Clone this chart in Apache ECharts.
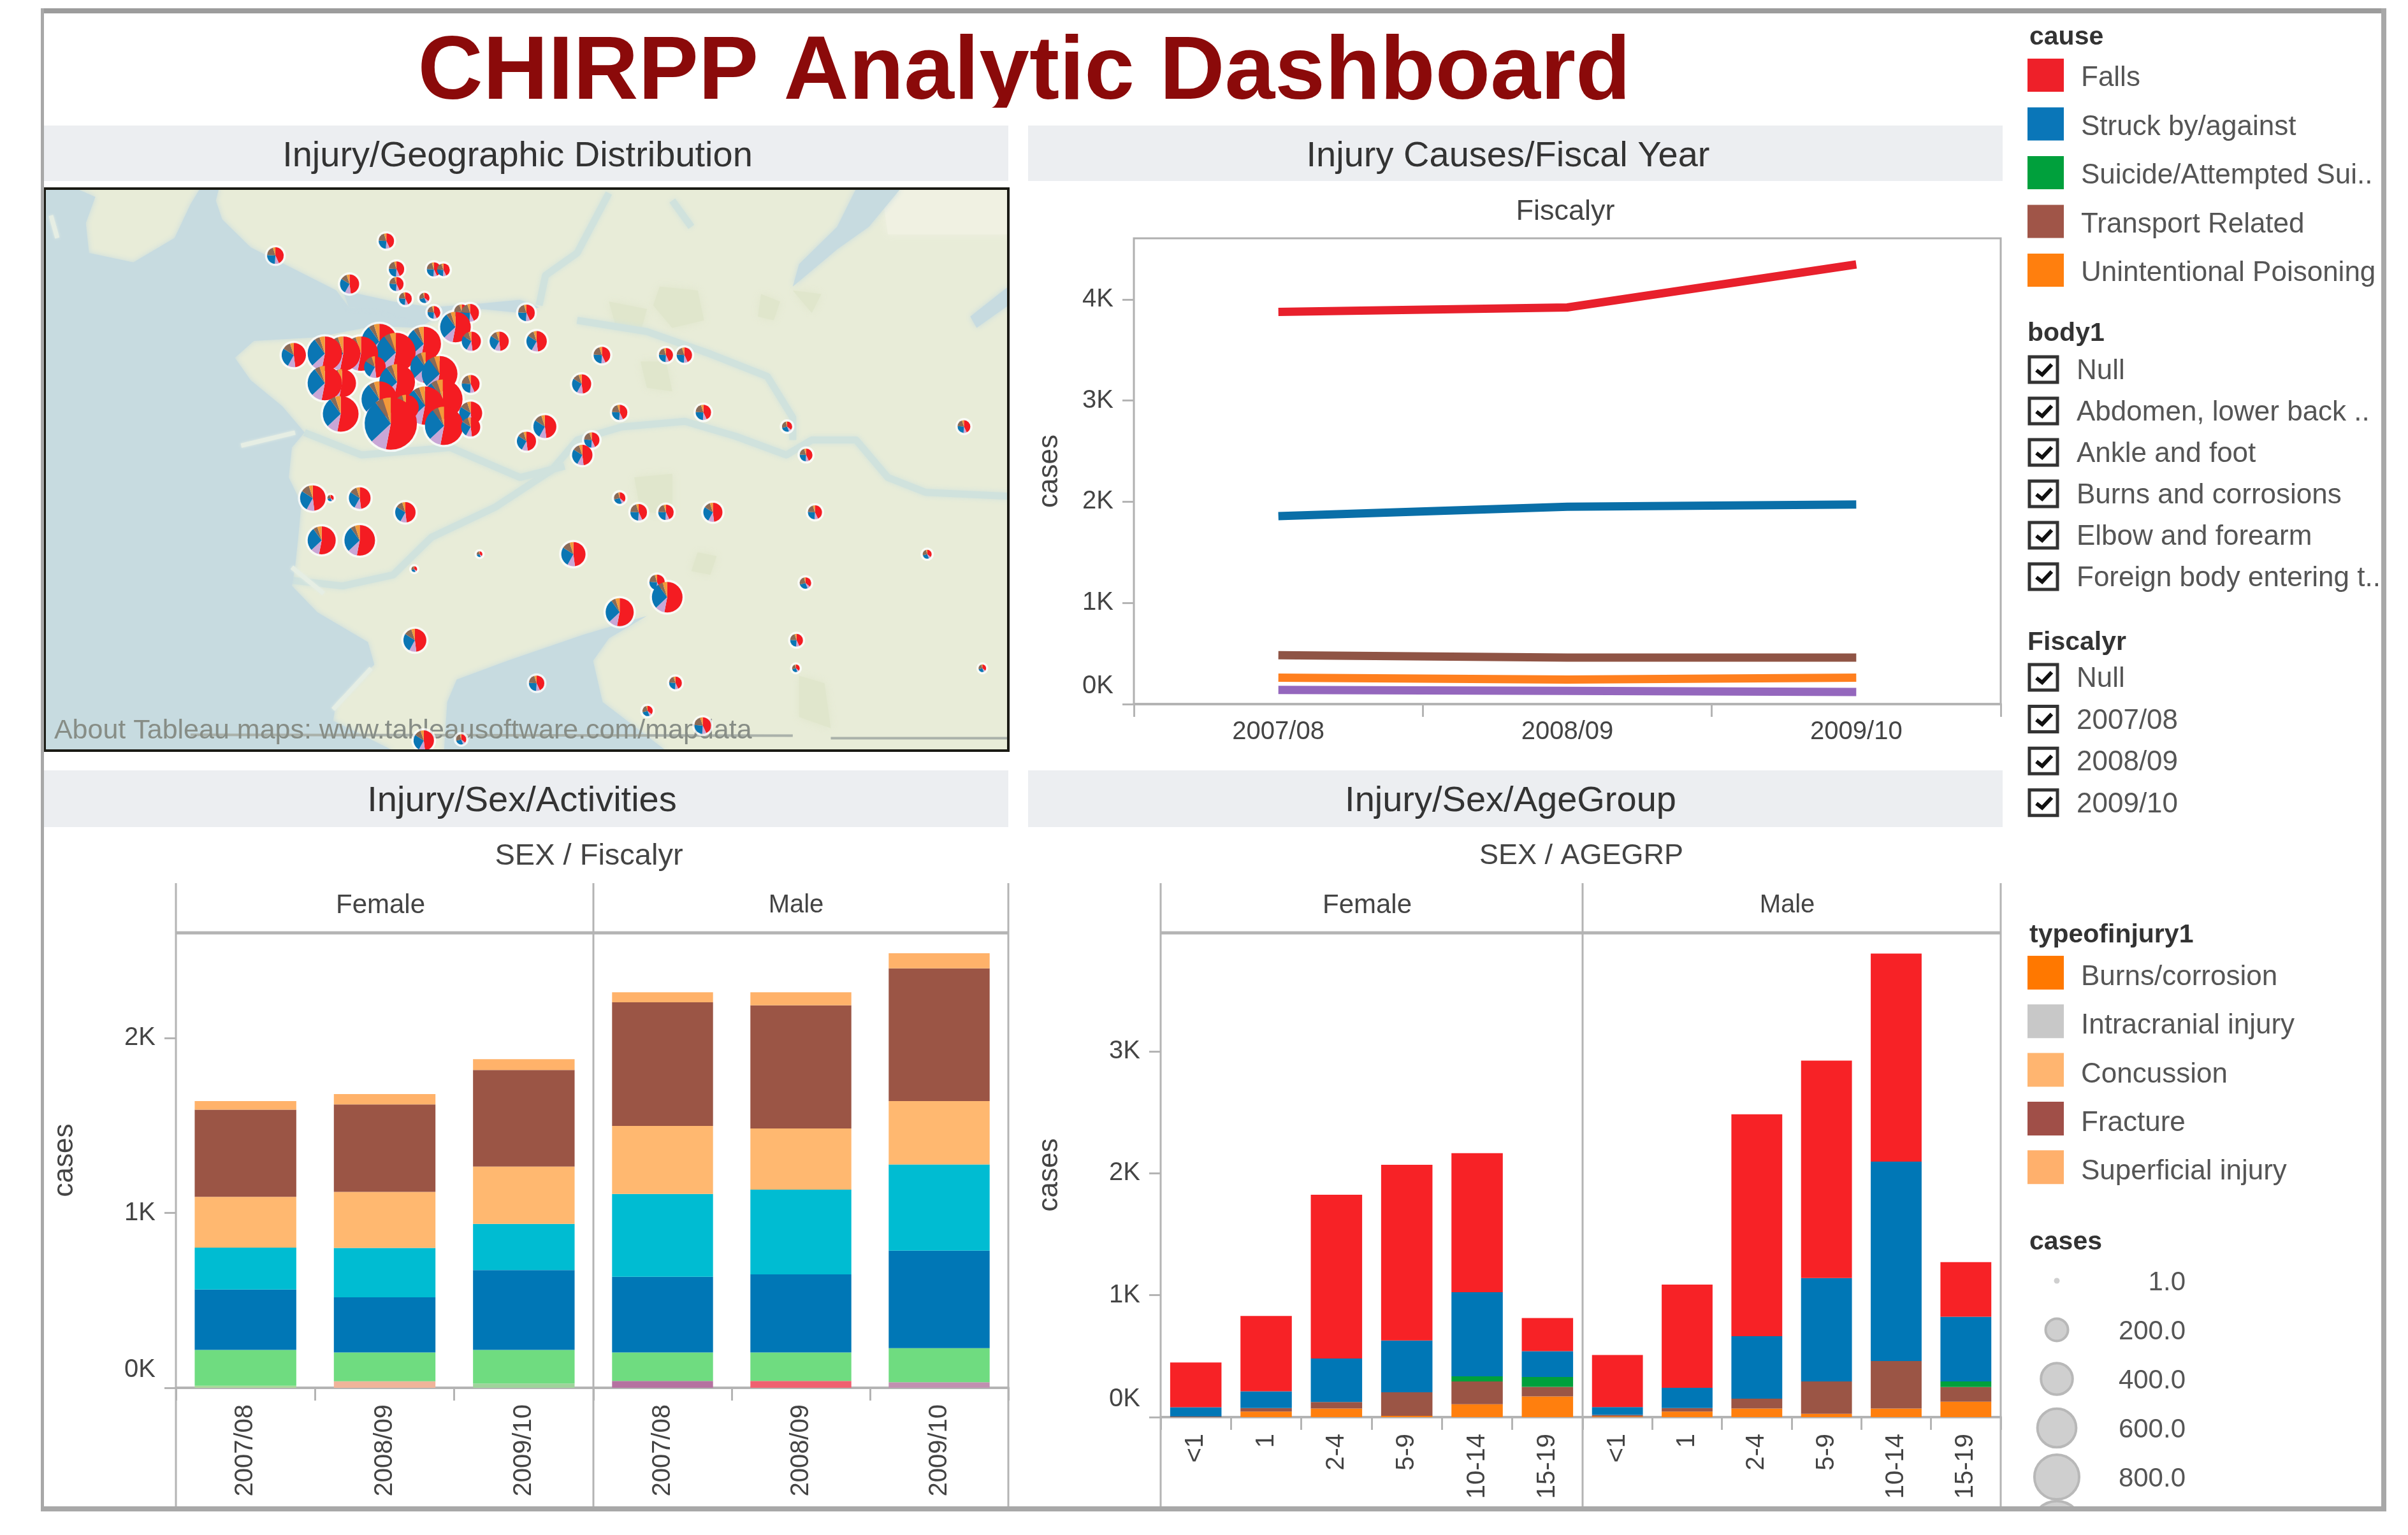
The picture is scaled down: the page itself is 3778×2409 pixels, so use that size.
<!DOCTYPE html>
<html>
  <head>
    <meta charset="utf-8" />
    <title>CHIRPP Analytic Dashboard</title>
    <script src="https://cdn.jsdelivr.net/npm/echarts@6/dist/echarts.min.js"></script>
    <style>
      html, body { margin: 0; padding: 0; background: #fff; }
    </style>
  </head>
  <body>
    <div id="main" style="width: 3778px;height:2409px;"></div>
    <script type="text/javascript">
// line chart: cases per fiscal year
const fiscalYears = ['2007/08', '2008/09', '2009/10'];
const lineFalls = [3876, 3920, 4345];
const lineStruck = [1858, 1950, 1972];
const lineTransport = [483, 460, 460];
const linePoisoning = [262, 243, 262];
const lineOther = [140, 130, 120];

// stacked bars by sex / fiscal year (female 3 values, then male 3 values)
const actBottom = [12, 37, 25, 39, 39, 32];
const actBottomColors = ['#a9d89a', '#efb49a', '#9fd39b', '#b572a0', '#ef6070', '#c090b0'];
const actGreen = [205, 165, 192, 163, 163, 195];
const actBlue = [345, 315, 456, 433, 446, 557];
const actCyan = [239, 283, 264, 473, 485, 493];
const actPeach = [291, 320, 328, 389, 350, 362];
const actBrown = [498, 500, 552, 707, 704, 759];
const actTop = [49, 59, 62, 57, 74, 86];

// stacked bars by sex / age group (female 6 values, then male 6 values)
const ageGroups = ['<1', '1', '2-4', '5-9', '10-14', '15-19'];
const ageOrange = [0, 46, 71, 10, 106, 170, 7, 46, 71, 28, 71, 127];
const ageBrown = [5, 28, 53, 194, 187, 78, 11, 28, 81, 265, 389, 120];
const ageGreen = [0, 0, 0, 0, 42, 81, 0, 0, 0, 0, 0, 46];
const ageBlue = [76, 138, 357, 424, 689, 212, 64, 166, 512, 848, 1636, 530];
const ageRed = [367, 618, 1343, 1442, 1141, 272, 428, 848, 1820, 1784, 1707, 449];

// map pies, in map units
const mapX = [374, 549, 491, 565, 624, 639, 565, 579, 609, 624, 681, 668, 770, 658, 683, 727, 786, 889, 990, 1019,
  403, 452, 481, 509, 538, 564, 608, 611, 566, 538, 580, 638, 640, 556, 477, 452, 479, 531, 633, 610, 682, 682, 682,
  857, 917, 1049, 1181, 1460, 799, 770, 873, 858, 1211, 433, 461, 507, 579, 917, 947, 990, 1064, 1225, 447, 507, 696,
  844, 1402, 593, 976, 1210, 992, 917, 594, 1196, 1195, 1489, 786, 1005, 961, 1048, 608, 667];
const mapY = [207, 168, 283, 243, 244, 245, 283, 322, 320, 359, 360, 358, 360, 398, 436, 436, 436, 473, 473, 473,
  473, 469, 469, 469, 437, 466, 443, 506, 545, 591, 613, 591, 662, 656, 630, 548, 548, 505, 523, 608, 550, 628, 665,
  550, 626, 626, 664, 664, 664, 703, 700, 740, 740, 855, 855, 855, 893, 855, 893, 893, 893, 893, 968, 968, 1005,
  1005, 1005, 1045, 1080, 1082, 1120, 1160, 1235, 1235, 1310, 1310, 1350, 1349, 1424, 1463, 1503, 1500];
const mapCases = [110, 94, 146, 94, 79, 65, 79, 65, 42, 65, 127, 94, 110, 375, 146, 146, 166, 110, 79, 94,
  235, 474, 474, 474, 510, 625, 474, 375, 510, 510, 260, 625, 585, 1093, 510, 474, 315, 188, 510, 585, 127, 211, 146,
  146, 94, 94, 42, 65, 211, 146, 94, 166, 65, 260, 16, 188, 166, 53, 110, 94, 146, 79, 315, 375, 6,
  235, 32, 10, 94, 53, 375, 315, 211, 65, 23, 23, 94, 65, 42, 110, 166, 42];

// share of each cause: falls, other, struck, transport, poisoning
const pieColors = ['#f41c22', '#c9a6d6', '#0a76b4', '#8a6a56', '#f29a3a'];
const mixLarge = [0.53, 0.10, 0.27, 0.05, 0.05];
const mixMid = [0.48, 0.10, 0.26, 0.11, 0.05];
const mixSmall = [0.43, 0.08, 0.25, 0.19, 0.05];
const mixTiny = [0.36, 0.08, 0.27, 0.25, 0.04];

// map background shapes, in map units
const mapLand = [[[10,28],[1530,28],[1530,1530],[10,1530]]];
const mapWater = [
  [[10,28],[60,28],[90,50],[75,120],[80,200],[150,225],[215,160],[240,70],[255,28],[285,28],[280,60],[290,110],[335,185],[400,240],[470,300],[490,345],[570,345],[620,380],[600,400],[530,395],[440,425],[340,435],[310,480],[335,540],[385,610],[420,680],[400,720],[395,800],[415,870],[410,960],[405,1040],[400,1090],[440,1160],[520,1240],[530,1300],[470,1400],[465,1450],[560,1530],[10,1530]],
  [[480,300],[560,330],[620,345],[700,335],[760,325],[790,345],[760,360],[700,350],[640,375],[600,385],[540,350],[490,345]],
  [[640,1530],[645,1400],[660,1340],[740,1290],[860,1220],[960,1170],[900,1230],[875,1290],[890,1400],[990,1530]],
  [[1290,28],[1360,28],[1310,130],[1260,190],[1190,290],[1200,230],[1260,130]],
  [[1530,290],[1530,340],[1480,400],[1470,370]]
];
const mapRivers = [
  [[400,1075],[480,1090],[560,1060],[620,960],[720,880],[810,780],[850,700],[920,665],[1020,650],[1100,690],[1180,740],[1220,700],[1290,700],[1340,800],[1400,840],[1530,850]],
  [[420,680],[510,740],[650,720],[760,800],[830,770]],
  [[850,380],[960,410],[1060,470],[1150,530],[1190,640],[1190,700]],
  [[790,340],[800,260],[850,200],[900,40]],
  [[1000,60],[1030,130]]
];
const mapParks = [
  [[980,290],[1040,300],[1050,380],[1000,400],[970,340]],
  [[950,490],[990,490],[1000,570],[960,560]],
  [[1200,1330],[1240,1350],[1250,1470],[1200,1440]],
  [[900,330],[960,350],[950,410],[910,390]],
  [[1040,1000],[1070,1010],[1060,1060],[1030,1050]],
  [[940,800],[1000,790],[1000,900],[950,890]],
  [[1140,310],[1170,330],[1160,380],[1135,370]],
  [[1190,300],[1235,310],[1220,360]]
];
const mapPale = [[[1330,28],[1530,28],[1530,150],[1340,150]]];
const mapJetties = [[[320,715],[405,680]], [[400,1040],[450,1110]], [[525,1310],[465,1420]], [[20,100],[30,160]]];
const mapRoads = [[[240,1488],[1190,1490]], [[1250,1497],[1530,1497]]];

// legends
const causeNames = ['Falls', 'Struck by/against', 'Suicide/Attempted Sui..', 'Transport Related', 'Unintentional Poisoning'];
const causeColors = ['#ee2029', '#0a76b8', '#00a03c', '#a05548', '#ff7f0e'];
const bodyNames = ['Null', 'Abdomen, lower back ..', 'Ankle and foot', 'Burns and corrosions', 'Elbow and forearm', 'Foreign body entering t..'];
const fiscalNames = ['Null', '2007/08', '2008/09', '2009/10'];
const injuryNames = ['Burns/corrosion', 'Intracranial injury', 'Concussion', 'Fracture', 'Superficial injury'];
const injuryColors = ['#ff7800', '#c8c8c8', '#ffb570', '#a04f48', '#ffb06c'];
const sizeLegend = [1, 200, 400, 600, 800, 1000];
const sizeLabels = ['1.0', '200.0', '400.0', '600.0', '800.0', ''];

const FONT = '"Liberation Sans", Arial, sans-serif';
const AXIS_GREY = '#b4b4b4';

function caseRadius(v) {
  return Math.max(4.5, 1.24 * Math.sqrt(v));
}
function mixFor(v) {
  if (v >= 300) return mixLarge;
  if (v >= 140) return mixMid;
  if (v >= 60) return mixSmall;
  return mixTiny;
}

// the 0K label sits a little above its tick in the original
function kLabel(v) { return v === 0 ? '{zero|0K}' : v / 1000 + 'K'; }

function valueAxis(index, max, ticks, showIt, nameGap) {
  return {
    type: 'value', gridIndex: index, min: 0, max: max, show: showIt,
    name: 'cases', nameLocation: 'middle', nameRotate: 90, nameGap: nameGap,
    nameTextStyle: { color: '#444', fontSize: 44, fontFamily: FONT },
    splitLine: { show: false },
    axisLine: { show: false },
    axisTick: { show: true, customValues: ticks, length: 18, lineStyle: { color: AXIS_GREY, width: 3 } },
    axisLabel: {
      customValues: ticks, formatter: kLabel, color: '#444', fontSize: 40, fontFamily: FONT, margin: 32,
      verticalAlignMinLabel: 'bottom',
      rich: { zero: { color: '#444', fontSize: 40, fontFamily: FONT, padding: [0, 0, 8, 0] } }
    }
  };
}
function catAxis(index, cats, rotated, margin) {
  return {
    type: 'category', gridIndex: index, data: cats,
    axisLine: { show: true, onZero: false, lineStyle: { color: AXIS_GREY, width: 4 } },
    axisTick: { show: true, length: 20, alignWithLabel: false, lineStyle: { color: AXIS_GREY, width: 3 } },
    axisLabel: {
      interval: 0, rotate: rotated ? 90 : 0, color: '#444', fontSize: 40, fontFamily: FONT, margin: margin,
      padding: rotated ? [0, 0, 14, 0] : 0
    }
  };
}

const grids = [
  { left: 70, top: 296, width: 1512, height: 882 },      // map
  { left: 1779, top: 374, width: 1360, height: 731, show: true, borderColor: '#b0b0b0', borderWidth: 3, backgroundColor: 'transparent' },
  { left: 276, top: 1464, width: 655, height: 714 },
  { left: 931, top: 1464, width: 651, height: 714 },
  { left: 1821, top: 1464, width: 662, height: 760 },
  { left: 2483, top: 1464, width: 656, height: 760 }
];

const xAxes = [
  { type: 'value', gridIndex: 0, min: 10, max: 1530, show: false },
  catAxis(1, fiscalYears, false, 24),
  catAxis(2, fiscalYears, true, 26),
  catAxis(3, fiscalYears, true, 26),
  catAxis(4, ageGroups, true, 26),
  catAxis(5, ageGroups, true, 26)
];
const yAxes = [
  { type: 'value', gridIndex: 0, min: 28, max: 1530, inverse: true, show: false },
  valueAxis(1, 4603, [0, 1000, 2000, 3000, 4000], true, 110),
  valueAxis(2, 2601, [0, 1000, 2000], true, 152),
  valueAxis(3, 2601, [0, 1000, 2000], false, 152),
  valueAxis(4, 3973, [0, 1000, 2000, 3000], true, 152),
  valueAxis(5, 3973, [0, 1000, 2000, 3000], false, 152)
];

const series = [];

// map background
const mapLayers = []
  .concat(mapLand.map(p => ({ kind: 'poly', pts: p, color: '#e8ecd8', blur: 0 })))
  .concat(mapPale.map(p => ({ kind: 'poly', pts: p, color: '#f0f1e2', blur: 14 })))
  .concat(mapParks.map(p => ({ kind: 'poly', pts: p, color: '#e0e6cc', blur: 14 })))
  .concat(mapRivers.map(p => ({ kind: 'line', pts: p, color: '#d0e2dd', width: 11, blur: 8 })))
  .concat(mapWater.map(p => ({ kind: 'poly', pts: p, color: '#c7dbe0', blur: 10 })))
  .concat(mapJetties.map(p => ({ kind: 'line', pts: p, color: '#e6eee4', width: 7, blur: 4 })))
  .concat(mapRoads.map(p => ({ kind: 'line', pts: p, color: '#aab1aa', width: 4, blur: 0 })));

series.push({
  type: 'custom', xAxisIndex: 0, yAxisIndex: 0, z: 1, clip: true, silent: true,
  data: mapLayers.map((l, i) => [i, i]),
  renderItem: function (params, api) {
    const layer = mapLayers[params.dataIndex];
    const points = layer.pts.map(p => api.coord(p));
    if (layer.kind === 'poly') {
      return {
        type: 'polygon', shape: { points: points },
        style: { fill: layer.color, shadowBlur: layer.blur, shadowColor: layer.color }
      };
    }
    return {
      type: 'polyline', shape: { points: points },
      style: { fill: null, stroke: layer.color, lineWidth: layer.width, lineJoin: 'round', shadowBlur: layer.blur, shadowColor: layer.color }
    };
  }
});

// attribution, under the pies
series.push({
  type: 'custom', xAxisIndex: 0, yAxisIndex: 0, z: 2, clip: true, silent: true,
  data: [[25, 1478]],
  renderItem: function (params, api) {
    const pos = api.coord([api.value(0), api.value(1)]);
    return {
      type: 'text',
      style: {
        x: pos[0], y: pos[1], text: 'About Tableau maps: www.tableausoftware.com/mapdata',
        fill: '#878d86', font: '43px ' + FONT, textVerticalAlign: 'middle'
      }
    };
  }
});

// pies placed through the hidden map axes, top rows first, right to left
const mapRows = mapX.map((x, i) => [x, mapY[i], mapCases[i]])
  .sort((a, b) => (a[1] - b[1]) || (b[0] - a[0]));

// halos go in their own pass so they do not cut into neighbouring pies
series.push({
  type: 'custom', xAxisIndex: 0, yAxisIndex: 0, z: 3, clip: true, silent: true,
  data: mapRows,
  renderItem: function (params, api) {
    const pos = api.coord([api.value(0), api.value(1)]);
    return {
      type: 'circle', shape: { cx: pos[0], cy: pos[1], r: caseRadius(api.value(2)) + 3.5 },
      style: { fill: 'rgba(255,255,255,0.75)' }
    };
  }
});
series.push({
  type: 'custom', xAxisIndex: 0, yAxisIndex: 0, z: 4, clip: true, silent: true,
  data: mapRows,
  renderItem: function (params, api) {
    const pos = api.coord([api.value(0), api.value(1)]);
    const cases = api.value(2);
    const r = caseRadius(cases);
    const mix = mixFor(cases);
    const children = [];
    let start = -Math.PI / 2;
    mix.forEach(function (share, k) {
      const end = start + share * Math.PI * 2;
      children.push({
        type: 'sector',
        shape: { cx: pos[0], cy: pos[1], r: r, r0: 0, startAngle: start, endAngle: end, clockwise: true },
        style: { fill: pieColors[k] }
      });
      start = end;
    });
    return { type: 'group', children: children };
  }
});

// line chart
[[lineFalls, 'Falls', '#e8202c'], [lineStruck, 'Struck by/against', '#0a6fa8'], [lineTransport, 'Transport Related', '#8f5445'],
 [linePoisoning, 'Unintentional Poisoning', '#ff7f1e'], [lineOther, 'Other', '#9467bd']].forEach(function (s) {
  series.push({
    type: 'line', name: s[1], data: s[0], xAxisIndex: 1, yAxisIndex: 1, symbol: 'none', silent: true,
    lineStyle: { color: s[2], width: 13, cap: 'butt', join: 'miter' }, z: 4
  });
});

// stacked bars, one grid per sex
function stackBars(values, name, color, axis) {
  series.push({
    type: 'bar', name: name, data: values, stack: 'facet' + axis, xAxisIndex: axis, yAxisIndex: axis,
    barWidth: '73%', silent: true, itemStyle: { color: color }
  });
}
[[actBottom, 'Other', null], [actGreen, 'Open wound', '#6fdc80'], [actBlue, 'Struck', '#0077b6'], [actCyan, 'Sprain', '#00bcd2'],
 [actPeach, 'Concussion', '#ffb870'], [actBrown, 'Fracture', '#9b5545'], [actTop, 'Superficial injury', '#ffb26a']].forEach(function (s) {
  const female = s[0].slice(0, 3);
  const male = s[0].slice(3, 6);
  if (s[2]) {
    stackBars(female, s[1], s[2], 2);
    stackBars(male, s[1], s[2], 3);
  } else {
    stackBars(female.map((v, i) => ({ value: v, itemStyle: { color: actBottomColors[i] } })), s[1], '#bbb', 2);
    stackBars(male.map((v, i) => ({ value: v, itemStyle: { color: actBottomColors[i + 3] } })), s[1], '#bbb', 3);
  }
});
[[ageOrange, 'Unintentional Poisoning', '#ff7f0e'], [ageBrown, 'Transport Related', '#9b5545'], [ageGreen, 'Suicide/Attempted', '#00a03c'],
 [ageBlue, 'Struck by/against', '#0077b6'], [ageRed, 'Falls', '#f72226']].forEach(function (s) {
  stackBars(s[0].slice(0, 6), s[1], s[2], 4);
  stackBars(s[0].slice(6, 12), s[1], s[2], 5);
});

// everything around the charts
const gfx = [];
function addText(text, x, y, size, color, extra) {
  gfx.push({
    type: 'text', z: 6, x: x, y: y,
    style: {
      text: text, fill: color, font: (extra && extra.bold ? 'bold ' : '') + size + 'px ' + FONT,
      textAlign: extra && extra.align || 'left', textVerticalAlign: 'middle'
    }
  });
}
function addRect(x, y, w, h, fill, z) {
  gfx.push({ type: 'rect', z: z === undefined ? 0 : z, shape: { x: x, y: y, width: w, height: h }, style: { fill: fill } });
}
function addLine(x1, y1, x2, y2, color, width, z) {
  gfx.push({ type: 'line', z: z || 5, shape: { x1: x1, y1: y1, x2: x2, y2: y2 }, style: { stroke: color, lineWidth: width } });
}

// title, its descender is cut off in the original
addText('CHIRPP Analytic Dashboard', 1607, 116, 141.5, '#8b0a0a', { bold: true, align: 'center' });
addRect(640, 169, 1950, 27, '#ffffff', 7);

// section bands
addRect(65, 197, 1517, 87, '#eceef1', 0);
addRect(1613, 197, 1529, 87, '#eceef1', 0);
addRect(65, 1209, 1517, 89, '#eceef1', 0);
addRect(1613, 1209, 1529, 89, '#eceef1', 0);
addText('Injury/Geographic Distribution', 812, 246, 56, '#333', { align: 'center' });
addText('Injury Causes/Fiscal Year', 2366, 246, 56, '#333', { align: 'center' });
addText('Injury/Sex/Activities', 819, 1258, 56, '#333', { align: 'center' });
addText('Injury/Sex/AgeGroup', 2370, 1258, 56, '#333', { align: 'center' });

// chart sub titles and facet headers
addText('Fiscalyr', 2456, 333, 45, '#444', { align: 'center' });
addText('SEX / Fiscalyr', 924, 1344, 47, '#444', { align: 'center' });
addText('SEX / AGEGRP', 2481, 1344, 45, '#444', { align: 'center' });
addText('Female', 597, 1421, 42, '#444', { align: 'center' });
addText('Male', 1249, 1421, 40, '#444', { align: 'center' });
addText('Female', 2145, 1421, 42, '#444', { align: 'center' });
addText('Male', 2804, 1421, 40, '#444', { align: 'center' });

// facet frame lines
[276, 931, 1582, 1821, 2483, 3139].forEach(function (x) {
  addLine(x, 1386, x, 2368, AXIS_GREY, 3);
});
addLine(276, 1464, 1582, 1464, AXIS_GREY, 5);
addLine(1821, 1464, 3139, 1464, AXIS_GREY, 5);

// map frame
gfx.push({ type: 'rect', z: 8, shape: { x: 70, y: 296, width: 1512, height: 882 }, style: { fill: null, stroke: '#1a1a14', lineWidth: 4 } });

// legends
addText('cause', 3184, 59, 41, '#333', { bold: true });
causeNames.forEach(function (name, i) {
  addRect(3181, 92 + i * 76.5, 57, 52, causeColors[i], 2);
  addText(name, 3265, 123 + i * 76.5, 44, '#555');
});

function checkRow(name, y) {
  gfx.push({ type: 'rect', z: 6, shape: { x: 3184, y: y - 20, width: 44, height: 40 }, style: { fill: '#fff', stroke: '#333', lineWidth: 5 } });
  gfx.push({ type: 'polyline', z: 6, shape: { points: [[3195, y + 1], [3204, y + 8], [3219, y - 8]] }, style: { fill: null, stroke: '#111', lineWidth: 6 } });
  addText(name, 3258, y + 3, 44, '#555');
}
addText('body1', 3181, 524, 41, '#333', { bold: true });
bodyNames.forEach(function (name, i) { checkRow(name, 580 + i * 65); });
addText('Fiscalyr', 3181, 1009, 41, '#333', { bold: true });
fiscalNames.forEach(function (name, i) { checkRow(name, 1063 + i * 65.6); });

addText('typeofinjury1', 3184, 1468, 41, '#333', { bold: true });
injuryNames.forEach(function (name, i) {
  addRect(3181, 1500 + i * 76.3, 57, 53, injuryColors[i], 2);
  addText(name, 3265, 1534 + i * 76.3, 44, '#555');
});
addText('cases', 3184, 1950, 41, '#333', { bold: true });
sizeLegend.forEach(function (v, i) {
  const y = 2010 + i * 77;
  gfx.push({ type: 'circle', z: 3, shape: { cx: 3227, cy: y, r: caseRadius(v) }, style: { fill: '#cfcfcf', stroke: v > 1 ? '#b8b8b8' : null, lineWidth: 4 } });
  addText(sizeLabels[i], 3429, y + 3, 42, '#555', { align: 'right' });
});

// outer frame, with a white strip below it
addRect(0, 2372, 3778, 37, '#ffffff', 9);
addRect(66, 13, 3678, 8, '#9c9c9c', 10);
addRect(66, 2364, 3678, 8, '#a8a8a8', 10);
addRect(64, 13, 5, 2359, '#a8a8a8', 10);
addRect(3736, 13, 8, 2359, '#a8a8a8', 10);

var chartDom = document.getElementById('main');
var myChart = echarts.init(chartDom);
var option = {
  animation: false,
  backgroundColor: '#fff',
  textStyle: { fontFamily: FONT },
  grid: grids,
  xAxis: xAxes,
  yAxis: yAxes,
  series: series,
  graphic: { elements: gfx }
};
myChart.setOption(option);
    </script>
  </body>
</html>
